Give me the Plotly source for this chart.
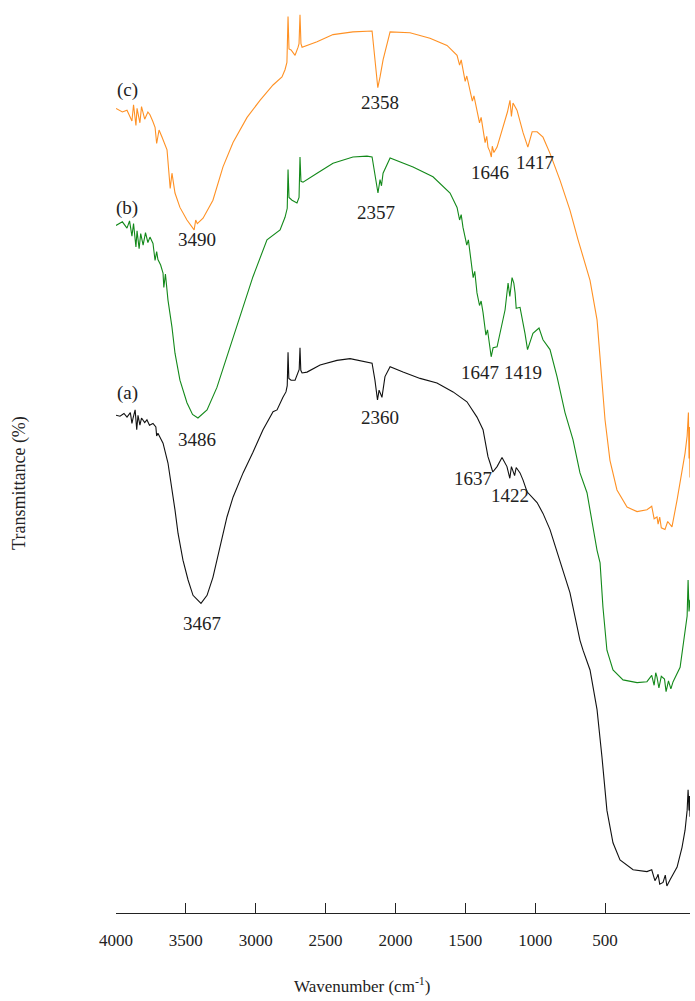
import plotly.graph_objects as go

# ---------------- spectra (wavenumber in cm-1, transmittance offset per sample) ----------------
wn_a = [4000, 3975, 3950, 3931, 3910, 3900, 3893, 3880, 3870, 3862, 3850, 3840, 3820, 3806, 3790,
        3768, 3750, 3745, 3737, 3705, 3674, 3649, 3630, 3611, 3580, 3548, 3517, 3467, 3429, 3392,
        3348, 3304, 3266, 3203, 3141, 3078, 3015, 2990, 2953, 2934, 2926, 2921, 2916, 2902, 2877,
        2858, 2851, 2846, 2841, 2833, 2802, 2720, 2614, 2532, 2451, 2394, 2376, 2360, 2350, 2332,
        2313, 2281, 2200, 2093, 1987, 1886, 1799, 1736, 1698, 1667, 1654, 1637, 1610, 1579, 1548,
        1530, 1520, 1510, 1500, 1490, 1466, 1447, 1422, 1359, 1322, 1278, 1215, 1153, 1090, 1071,
        1027, 983, 952, 921, 883, 839, 757, 670, 640, 620, 607, 600, 590, 569, 555,
        545, 525, 481, 450, 431, 418, 412, 406, 403, 400]
t_a = [55.3, 55.2, 55.5, 55.1, 55.6, 54.4, 55.0, 55.9, 53.7, 55.3, 54.2, 55.0, 54.5, 54.8, 54.2,
       54.4, 54.0, 53.0, 53.3, 52.2, 50.0, 47.3, 44.8, 42.2, 39.2, 37.0, 35.3, 34.4, 35.3, 37.3,
       40.7, 44.0, 46.2, 48.9, 51.2, 53.7, 55.7, 55.9, 57.3, 57.9, 58.6, 62.3, 59.4, 59.2, 59.2,
       60.0, 60.4, 62.8, 60.3, 60.0, 60.1, 60.9, 61.4, 61.6, 61.3, 61.1, 59.2, 57.0, 58.1, 57.3,
       59.6, 60.7, 60.1, 59.4, 58.9, 57.9, 56.8, 55.1, 53.7, 50.7, 50.0, 49.0, 49.6, 50.6, 49.6,
       48.3, 49.6, 49.0, 48.6, 49.5, 48.9, 48.1, 46.8, 45.6, 44.4, 42.6, 39.2, 35.6, 30.3, 29.2,
       27.0, 22.6, 17.3, 11.4, 7.8, 5.9, 4.8, 4.6, 4.8, 3.6, 4.0, 4.3, 3.2, 3.4, 4.2,
       3.0, 3.7, 5.1, 7.3, 9.2, 11.4, 13.7, 11.4, 13.0, 10.7]

wn_b = [4000, 3960, 3931, 3915, 3900, 3890, 3875, 3868, 3855, 3845, 3830, 3815, 3800, 3787, 3768,
        3755, 3745, 3737, 3720, 3705, 3700, 3690, 3674, 3649, 3630, 3599, 3555, 3520, 3486, 3429,
        3367, 3304, 3222, 3141, 3053, 2971, 2940, 2926, 2921, 2915, 2896, 2865, 2852, 2846, 2840,
        2827, 2739, 2639, 2514, 2426, 2394, 2376, 2357, 2344, 2335, 2325, 2281, 2137, 2012, 1905,
        1861, 1845, 1835, 1824, 1800, 1790, 1780, 1760, 1750, 1736, 1720, 1710, 1698, 1680, 1670,
        1654, 1647, 1635, 1610, 1560, 1541, 1530, 1516, 1505, 1497,
        1490, 1466, 1435, 1419, 1385, 1347, 1322, 1278, 1234, 1184, 1134, 1090, 1046, 1008, 983,
        964, 946, 921, 883, 820, 732, 670, 640, 625, 615, 607, 595, 580, 560, 550,
        535, 520, 506, 462, 431, 418, 412, 406, 400]
t_b = [76.4, 76.8, 76.1, 76.9, 75.2, 76.6, 74.0, 75.8, 73.8, 75.5, 74.2, 75.6, 74.5, 75.1, 74.4,
       72.5, 73.5, 72.6, 72.0, 71.1, 69.5, 71.0, 68.1, 65.1, 62.2, 59.2, 56.7, 55.4, 55.0, 55.9,
       58.4, 61.8, 66.2, 70.7, 74.8, 75.9, 77.3, 78.3, 82.6, 79.5, 79.2, 78.9, 79.5, 84.0, 81.3,
       81.2, 82.2, 83.3, 84.0, 84.1, 84.0, 81.8, 80.0, 81.5, 80.8, 82.2, 83.9, 82.9, 81.8, 80.0,
       78.4, 77.0, 77.6, 76.2, 74.2, 74.8, 73.3, 70.6, 71.3, 68.9, 67.5, 68.0, 66.7, 64.2, 64.8,
       62.9, 61.8, 62.8, 62.9, 67.0, 70.0, 68.5, 70.6, 70.0, 68.9,
       67.2, 67.3, 64.4, 62.6, 64.4, 65.0, 63.7, 62.6, 59.6, 55.6, 52.6, 48.9, 46.7, 42.6, 40.3,
       38.9, 34.0, 29.2, 27.0, 25.9, 25.6, 25.7, 26.4, 25.3, 26.7, 26.2, 25.0, 26.3, 26.0, 24.6,
       25.8, 24.9, 25.7, 27.3, 31.1, 33.0, 37.0, 33.5, 34.8]

wn_c = [4000, 3960, 3931, 3915, 3900, 3890, 3875, 3868, 3850, 3840, 3820, 3800, 3787, 3770, 3755,
        3745, 3730, 3711, 3680, 3660, 3649, 3630, 3599, 3555, 3520, 3510, 3500, 3490, 3454, 3392,
        3329, 3266, 3178, 3097, 3015, 2959, 2940, 2928, 2921, 2915, 2902, 2877, 2858, 2852, 2846,
        2840, 2833, 2739, 2639, 2514, 2394, 2382, 2358, 2344, 2325, 2281, 2156, 2031, 1924, 1861,
        1845, 1835, 1824, 1810, 1800, 1780, 1765, 1755, 1736, 1720, 1710, 1698, 1685, 1675, 1667,
        1655, 1646, 1640, 1630, 1610, 1573, 1545, 1529, 1520, 1510, 1485, 1447,
        1417, 1390, 1359, 1322, 1278, 1215, 1153, 1102, 1027, 983, 952, 933, 902, 858, 795,
        732, 670, 640, 625, 607, 600, 590, 580, 557, 540, 513, 481, 450, 431, 418,
        410, 406, 403, 400]
t_c = [89.4, 89.0, 89.2, 88.6, 88.0, 89.8, 87.5, 89.4, 87.8, 89.6, 88.2, 89.0, 88.7, 88.0, 87.3,
       85.5, 87.0, 86.2, 84.8, 80.5, 82.2, 80.0, 78.4, 77.0, 76.2, 75.9, 77.0, 76.6, 77.2, 79.2,
       82.9, 85.6, 88.4, 90.3, 92.0, 92.9, 93.7, 94.5, 99.6, 96.0, 95.9, 95.3, 96.2, 96.6, 99.8,
       96.6, 96.2, 96.8, 97.6, 97.9, 98.0, 95.9, 91.7, 92.9, 94.8, 97.9, 97.8, 97.2, 96.4, 95.3,
       94.2, 94.8, 93.7, 92.4, 93.0, 91.4, 90.2, 90.8, 89.2, 87.8, 88.4, 87.0, 85.6, 86.3, 85.1,
       84.6, 84.0, 85.2, 84.5, 85.1, 87.3, 89.0, 90.3, 88.5, 90.0, 89.2, 86.7,
       85.1, 86.8, 86.8, 86.2, 84.4, 81.4, 78.1, 74.8, 70.3, 65.9, 59.2, 54.8, 50.3, 47.0, 45.1,
       44.6, 44.8, 45.2, 43.8, 44.0, 43.2, 44.0, 42.8, 42.6, 43.5, 42.9, 45.9, 48.9, 51.1, 53.0,
       55.6, 50.5, 54.0, 48.4]

sample_names = ["(a)", "(b)", "(c)"]
sample_colors = ["#111111", "#13891a", "#ff9124"]

# sample tags, placed at the left end of each trace
tag_wn = [3931, 3931, 3931]
tag_t = [57.8, 78.3, 91.4]

# band assignments written next to each trace
band_text = ["3467", "2360", "1637", "1422",
             "3486", "2357", "1647", "1419",
             "3490", "2358", "1646", "1417"]
band_wn = [3461, 2344, 1761, 1529,
           3492, 2369, 1717, 1447,
           3492, 2344, 1654, 1372]
band_t = [32.2, 55.1, 48.3, 46.4,
          52.6, 77.8, 60.1, 60.1,
          74.8, 90.1, 82.3, 83.4]

# printed wavenumber scale: 4000 ... 500, drawn on a shorter length than the data span
scale_labels = [4000, 3500, 3000, 2500, 2000, 1500, 1000, 500]
scale_ratio = 0.8763
scale_pos = [4000 - (4000 - v) * scale_ratio for v in scale_labels]

SERIF = "Liberation Serif, Times New Roman, serif"
INK = "#222222"

fig = go.Figure()
for wn, t, name, col in zip([wn_a, wn_b, wn_c], [t_a, t_b, t_c], sample_names, sample_colors):
    fig.add_trace(go.Scatter(x=wn, y=t, mode="lines", name=name,
                             line=dict(color=col, width=1.1), showlegend=False))

annotations = []
for txt, x, y in zip(sample_names, tag_wn, tag_t):
    annotations.append(dict(x=x, y=y, text=txt, showarrow=False,
                            xanchor="center", yanchor="middle",
                            font=dict(family=SERIF, size=19, color=INK)))
for txt, x, y in zip(band_text, band_wn, band_t):
    annotations.append(dict(x=x, y=y, text=txt, showarrow=False,
                            xanchor="center", yanchor="middle",
                            font=dict(family=SERIF, size=19, color=INK)))
annotations.append(dict(xref="paper", yref="paper", x=-0.167, y=0.478, text="Transmittance (%)",
                        textangle=-90, showarrow=False, xanchor="center", yanchor="middle",
                        font=dict(family=SERIF, size=18, color=INK)))
annotations.append(dict(xref="paper", yref="paper", x=0.4286, y=-0.08,
                        text="Wavenumber (cm<sup>-1</sup>)", showarrow=False,
                        xanchor="center", yanchor="middle",
                        font=dict(family=SERIF, size=17, color=INK)))

fig.update_layout(
    width=695, height=1001,
    margin=dict(l=116, r=5, t=13, b=88),
    paper_bgcolor="white", plot_bgcolor="white",
    annotations=annotations,
    xaxis=dict(range=[4000, 400], showgrid=False, zeroline=False,
               showline=True, linecolor=INK, linewidth=1,
               ticks="inside", ticklen=10, tickwidth=1, tickcolor=INK,
               tickvals=scale_pos, ticktext=[str(v) for v in scale_labels],
               ticklabelstandoff=12,
               tickfont=dict(family=SERIF, size=17, color=INK)),
    yaxis=dict(range=[0, 100], visible=False),
)

fig.write_html("out.html")
